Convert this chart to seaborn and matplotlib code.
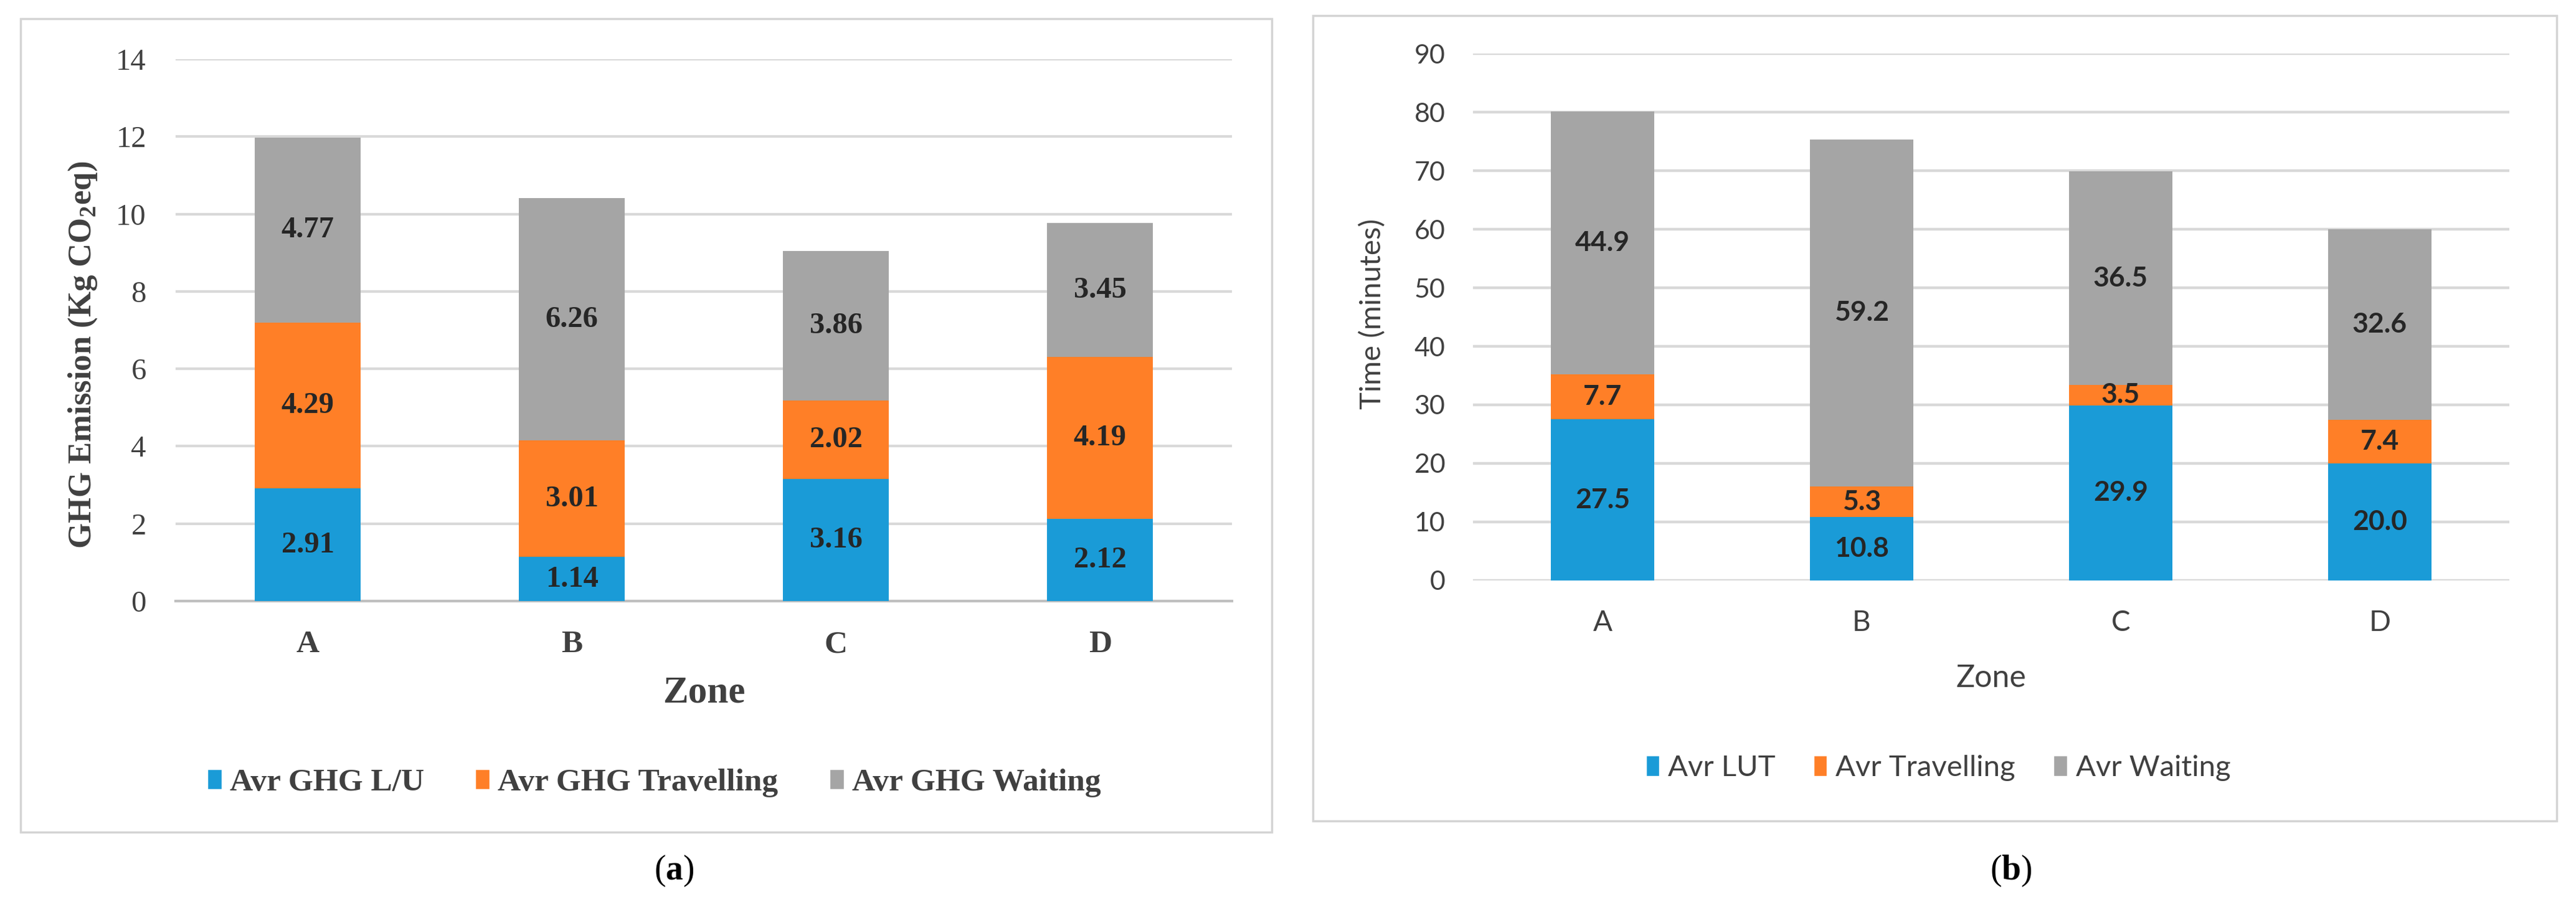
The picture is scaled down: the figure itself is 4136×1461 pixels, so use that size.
import matplotlib
matplotlib.use("Agg")
import matplotlib.pyplot as plt
import seaborn as sns
import numpy as np
from matplotlib.patches import Rectangle, Patch

zones = ["A", "B", "C", "D"]

# (a) GHG emission per zone (Kg CO2eq)
ghg_lu = [2.91, 1.14, 3.16, 2.12]
ghg_travel = [4.29, 3.01, 2.02, 4.19]
ghg_wait = [4.77, 6.26, 3.86, 3.45]
ghg_names = ["Avr GHG L/U", "Avr GHG Travelling", "Avr GHG Waiting"]

# (b) time per zone (minutes)
time_lut = [27.5, 10.8, 29.9, 20.0]
time_travel = [7.7, 5.3, 3.5, 7.4]
time_wait = [44.9, 59.2, 36.5, 32.6]
time_names = ["Avr LUT", "Avr Travelling", "Avr Waiting"]

colors = ["#1A9BD7", "#FF7F27", "#A5A5A5"]
grid_col = "#D9D9D9"
txt_col = "#404040"
lbl_col = "#262626"

serif = "Liberation Serif"
sans = "Lato"

sns.set_style("white")
plt.rcParams["mathtext.fontset"] = "custom"
plt.rcParams["mathtext.rm"] = "Liberation Serif"
plt.rcParams["mathtext.bf"] = "Liberation Serif:bold"

fig = plt.figure(figsize=(41.36, 14.61), dpi=100)


def stacked(ax, layers, fmt, font, weight, size):
    # draw cumulative totals from top down so the layers look stacked
    cums = np.cumsum(np.array(layers), axis=0)
    for k in range(len(layers) - 1, -1, -1):
        sns.barplot(x=zones, y=cums[k], color=colors[k], width=0.4,
                    saturation=1, linewidth=0, zorder=3, ax=ax)
    for k, vals in enumerate(layers):
        base = cums[k] - np.array(vals)
        for i, v in enumerate(vals):
            ax.text(i, base[i] + v / 2, fmt.format(v), ha="center", va="center",
                    fontfamily=font, fontweight=weight, fontsize=size,
                    color=lbl_col, zorder=4)


def frame(x0, y0, x1, y1):
    fig.add_artist(Rectangle((x0, y0), x1 - x0, y1 - y0, transform=fig.transFigure,
                             fill=False, edgecolor="#D4D4D4", lw=2.5))


# ---------- panel (a) ----------
frame(0.0080, 0.0856, 0.4937, 0.9795)
ax1 = fig.add_axes([0.0682, 0.3395, 0.4101, 0.5955])
stacked(ax1, [ghg_lu, ghg_travel, ghg_wait], "{:.2f}", serif, "bold", 35)
ax1.set_xlim(-0.5, 3.5)
ax1.set_ylim(0, 14)
ax1.set_yticks(range(0, 15, 2), [str(t) for t in range(0, 15, 2)],
               fontfamily=serif, fontsize=35, color=txt_col)
ax1.set_xticks(range(4), zones, fontfamily=serif, fontweight="bold",
               fontsize=37, color=txt_col)
ax1.set_xticks([-0.5, 0.5, 1.5, 2.5, 3.5], minor=True)
ax1.tick_params(axis="x", which="major", length=0, pad=34)
ax1.tick_params(axis="x", which="minor", length=11, width=2, color="#BFBFBF")
ax1.tick_params(axis="y", length=0, pad=34)
ax1.yaxis.grid(True, color=grid_col, lw=3)
ax1.set_axisbelow(True)
for s in ["top", "right", "left"]:
    ax1.spines[s].set_visible(False)
ax1.spines["bottom"].set_color("#BFBFBF")
ax1.spines["bottom"].set_linewidth(3)
ax1.set_xlabel("Zone", fontfamily=serif, fontweight="bold", fontsize=44, color=txt_col)
ax1.xaxis.set_label_coords(0.5, -0.169)
ax1.xaxis.label.set_va("center")
ax1.set_ylabel(r"GHG Emission (Kg CO$_{\mathbf{2}}$eq)", fontfamily=serif,
               fontweight="bold", fontsize=38, color=txt_col)
ax1.yaxis.set_label_coords(-0.088, 0.454)
ax1.yaxis.label.set_va("center")

fig.legend(handles=[Patch(facecolor=c, label=n) for c, n in zip(colors, ghg_names)],
           loc="center", bbox_to_anchor=(0.2539, 0.1396), ncol=3, frameon=False,
           prop={"family": serif, "weight": "bold", "size": 37}, labelcolor=txt_col,
           handlelength=0.45, handleheight=0.6, handletextpad=0.25, columnspacing=1.6)
fig.text(0.2616, 0.0431, r"($\mathbf{a}$)", ha="center", va="center",
         fontfamily=serif, fontsize=40, color="black")

# ---------- panel (b) ----------
frame(0.5097, 0.0979, 0.9925, 0.9829)
ax2 = fig.add_axes([0.5718, 0.3621, 0.4023, 0.5790])
stacked(ax2, [time_lut, time_travel, time_wait], "{:.1f}", sans, "bold", 32)
ax2.set_xlim(-0.5, 3.5)
ax2.set_ylim(0, 90)
ax2.set_yticks(range(0, 91, 10), [str(t) for t in range(0, 91, 10)],
               fontfamily=sans, fontsize=31, color=txt_col)
ax2.set_xticks(range(4), zones, fontfamily=sans, fontsize=33, color=txt_col)
ax2.tick_params(axis="x", length=0, pad=34)
ax2.tick_params(axis="y", length=0, pad=32)
ax2.yaxis.grid(True, color=grid_col, lw=3.2)
ax2.set_axisbelow(True)
sns.despine(ax=ax2, left=True, bottom=True)
ax2.set_xlabel("Zone", fontfamily=sans, fontsize=36, color=txt_col)
ax2.xaxis.set_label_coords(0.5, -0.186)
ax2.xaxis.label.set_va("center")
ax2.set_ylabel("Time (minutes)", fontfamily=sans, fontsize=34, color=txt_col)
ax2.yaxis.set_label_coords(-0.0968, 0.506)
ax2.yaxis.label.set_va("center")

fig.legend(handles=[Patch(facecolor=c, label=n) for c, n in zip(colors, time_names)],
           loc="center", bbox_to_anchor=(0.7524, 0.1561), ncol=3, frameon=False,
           prop={"family": sans, "size": 34}, labelcolor=txt_col,
           handlelength=0.45, handleheight=0.7, handletextpad=0.3, columnspacing=1.3)
fig.text(0.7807, 0.0431, r"($\mathbf{b}$)", ha="center", va="center",
         fontfamily=serif, fontsize=40, color="black")

fig.savefig("out.png", dpi=100, facecolor="white")
